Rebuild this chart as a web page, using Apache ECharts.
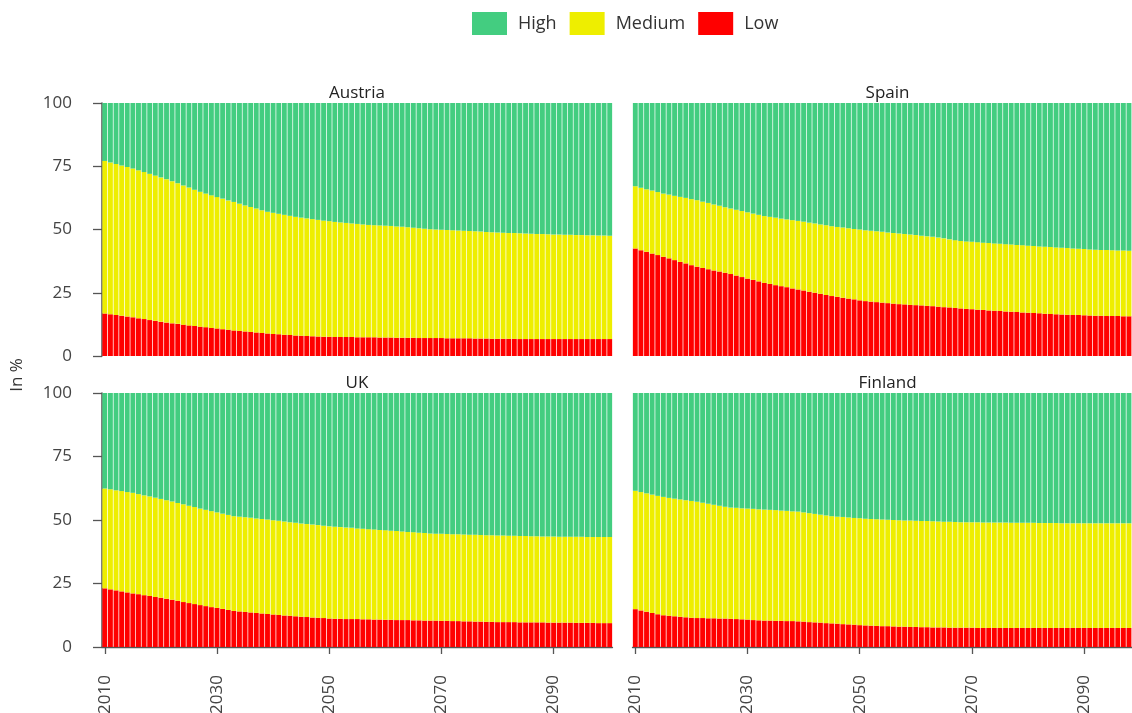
<!DOCTYPE html>
<html><head><meta charset="utf-8">
<script src="https://cdn.jsdelivr.net/npm/echarts@6/dist/echarts.min.js"></script>
<style>html,body{margin:0;padding:0;background:#fff}#c{width:1132px;height:713px}</style>
</head><body><div id="c"></div><script>
const years = ['2010','2011','2012','2013','2014','2015','2016','2017','2018','2019',
'2020','2021','2022','2023','2024','2025','2026','2027','2028','2029',
'2030','2031','2032','2033','2034','2035','2036','2037','2038','2039',
'2040','2041','2042','2043','2044','2045','2046','2047','2048','2049',
'2050','2051','2052','2053','2054','2055','2056','2057','2058','2059',
'2060','2061','2062','2063','2064','2065','2066','2067','2068','2069',
'2070','2071','2072','2073','2074','2075','2076','2077','2078','2079',
'2080','2081','2082','2083','2084','2085','2086','2087','2088','2089',
'2090','2091','2092','2093','2094','2095','2096','2097','2098','2099','2100'];
const yTicks = [0, 25, 50, 75, 100];
const countries = ['Austria', 'Spain', 'UK', 'Finland'];
const levels = ['High', 'Medium', 'Low'];

const austriaLow = [16.8,16.5,16.2,15.9,15.6,15.3,14.9,14.6,14.2,13.9,
13.5,13.2,12.9,12.7,12.4,12.1,11.9,11.6,11.4,11.1,
10.9,10.6,10.4,10.1,9.9,9.7,9.5,9.3,9.1,8.9,
8.7,8.6,8.4,8.3,8.1,8.0,7.9,7.8,7.7,7.6,
7.6,7.5,7.5,7.5,7.5,7.4,7.4,7.4,7.4,7.3,
7.3,7.3,7.2,7.2,7.2,7.2,7.1,7.1,7.1,7.1,
7.1,7.0,7.0,7.0,7.0,7.0,6.9,6.9,6.9,6.8,
6.8,6.8,6.8,6.8,6.7,6.7,6.7,6.7,6.7,6.7,
6.7,6.7,6.7,6.7,6.7,6.7,6.7,6.7,6.7,6.7,6.7];
const austriaMedium = [60.3,60.0,59.7,59.4,59.1,58.8,58.5,58.1,57.8,57.4,
57.1,56.7,56.2,55.6,55.0,54.5,53.8,53.3,52.8,52.4,
51.9,51.6,51.1,50.8,50.3,49.8,49.4,49.0,48.5,48.1,
47.9,47.6,47.4,47.1,46.9,46.7,46.5,46.3,46.1,45.9,
45.7,45.5,45.3,45.1,44.9,44.8,44.6,44.4,44.3,44.3,
44.2,44.1,44.0,43.9,43.7,43.5,43.4,43.2,43.0,42.9,
42.8,42.8,42.7,42.6,42.5,42.4,42.4,42.3,42.1,42.1,
42.0,41.9,41.8,41.8,41.8,41.7,41.6,41.5,41.5,41.4,
41.3,41.3,41.2,41.2,41.1,41.1,41.0,41.0,40.9,40.9,40.8];
const austriaHigh = [22.9,23.5,24.1,24.7,25.3,25.9,26.6,27.3,28.0,28.7,
29.4,30.1,30.9,31.7,32.6,33.4,34.3,35.1,35.8,36.5,
37.2,37.8,38.5,39.1,39.8,40.5,41.1,41.7,42.4,43.0,
43.4,43.8,44.2,44.6,45.0,45.3,45.6,45.9,46.2,46.5,
46.7,47.0,47.2,47.4,47.6,47.8,48.0,48.2,48.3,48.4,
48.5,48.6,48.8,48.9,49.1,49.3,49.5,49.7,49.9,50.0,
50.1,50.2,50.3,50.4,50.5,50.6,50.7,50.8,51.0,51.1,
51.2,51.3,51.4,51.4,51.5,51.6,51.7,51.8,51.8,51.9,
52.0,52.0,52.1,52.1,52.2,52.2,52.3,52.3,52.4,52.4,52.5];

const spainLow = [42.5,41.8,41.2,40.5,39.9,39.2,38.6,37.9,37.2,36.6,
35.9,35.3,34.8,34.3,33.8,33.4,32.9,32.4,31.8,31.2,
30.6,30.1,29.5,28.9,28.5,28.0,27.6,27.2,26.7,26.3,
25.9,25.4,25.0,24.6,24.1,23.7,23.4,23.0,22.7,22.4,
22.0,21.7,21.5,21.3,21.1,20.9,20.7,20.5,20.4,20.2,
20.1,20.0,19.8,19.7,19.5,19.3,19.2,19.0,18.8,18.6,
18.5,18.3,18.2,18.0,17.9,17.8,17.6,17.5,17.4,17.2,
17.1,17.0,16.9,16.7,16.6,16.5,16.4,16.3,16.2,16.2,
16.1,16.0,15.9,15.9,15.8,15.8,15.8,15.7,15.7,15.6,15.6];
const spainMedium = [24.6,24.7,24.7,24.9,24.9,25.0,25.2,25.4,25.7,25.9,
26.1,26.3,26.2,26.2,26.1,26.0,25.9,25.9,26.0,26.1,
26.2,26.2,26.3,26.4,26.5,26.7,26.7,26.8,27.0,27.1,
27.2,27.3,27.4,27.4,27.6,27.6,27.6,27.8,27.8,27.8,
28.0,28.0,28.0,28.0,28.0,27.9,27.9,27.9,27.8,27.8,
27.7,27.5,27.5,27.4,27.3,27.2,26.9,26.8,26.7,26.7,
26.7,26.7,26.6,26.7,26.6,26.6,26.6,26.6,26.5,26.6,
26.5,26.5,26.4,26.5,26.5,26.4,26.4,26.4,26.3,26.2,
26.2,26.1,26.1,26.0,26.1,26.0,25.9,26.0,25.9,26.0,25.9];
const spainHigh = [32.9,33.5,34.1,34.6,35.2,35.8,36.2,36.7,37.1,37.5,
38.0,38.4,39.0,39.5,40.1,40.6,41.2,41.7,42.2,42.7,
43.2,43.7,44.2,44.7,45.0,45.3,45.7,46.0,46.3,46.6,
46.9,47.3,47.6,48.0,48.3,48.7,49.0,49.2,49.5,49.8,
50.0,50.3,50.5,50.7,50.9,51.2,51.4,51.6,51.8,52.0,
52.2,52.5,52.7,52.9,53.2,53.5,53.9,54.2,54.5,54.7,
54.8,55.0,55.2,55.3,55.5,55.6,55.8,55.9,56.1,56.2,
56.4,56.5,56.7,56.8,56.9,57.1,57.2,57.3,57.5,57.6,
57.7,57.9,58.0,58.1,58.1,58.2,58.3,58.3,58.4,58.4,58.5];

const ukLow = [23.1,22.7,22.3,21.9,21.5,21.1,20.8,20.4,20.1,19.7,
19.4,19.0,18.6,18.2,17.7,17.3,16.9,16.5,16.1,15.7,
15.4,15.0,14.6,14.2,14.0,13.8,13.6,13.4,13.2,13.0,
12.8,12.6,12.4,12.3,12.1,11.9,11.8,11.6,11.5,11.4,
11.2,11.1,11.1,11.0,11.0,11.0,10.9,10.9,10.8,10.8,
10.7,10.7,10.6,10.6,10.6,10.5,10.5,10.4,10.4,10.4,
10.3,10.3,10.2,10.2,10.1,10.1,10.0,10.0,9.9,9.9,
9.8,9.8,9.8,9.8,9.7,9.7,9.7,9.7,9.7,9.6,
9.6,9.6,9.6,9.6,9.5,9.5,9.5,9.5,9.4,9.4,9.4];
const ukMedium = [39.3,39.4,39.4,39.5,39.5,39.6,39.4,39.3,39.2,39.1,
38.9,38.8,38.7,38.5,38.5,38.3,38.2,38.0,37.9,37.8,
37.6,37.5,37.4,37.3,37.3,37.3,37.3,37.2,37.2,37.2,
37.1,37.1,37.0,36.8,36.8,36.7,36.6,36.6,36.5,36.3,
36.3,36.2,36.1,36.0,35.9,35.7,35.7,35.5,35.5,35.3,
35.3,35.1,35.1,34.9,34.7,34.7,34.5,34.5,34.3,34.2,
34.3,34.2,34.2,34.2,34.2,34.1,34.2,34.1,34.1,34.1,
34.1,34.1,34.0,34.0,34.0,34.0,33.9,33.9,33.8,33.9,
33.9,33.8,33.8,33.8,33.9,33.9,33.8,33.8,33.9,33.9,33.9];
const ukHigh = [37.6,37.9,38.3,38.6,39.0,39.3,39.8,40.3,40.7,41.2,
41.7,42.2,42.7,43.3,43.8,44.4,44.9,45.5,46.0,46.5,
47.0,47.5,48.0,48.5,48.7,48.9,49.1,49.4,49.6,49.8,
50.1,50.3,50.6,50.9,51.1,51.4,51.6,51.8,52.0,52.3,
52.5,52.7,52.8,53.0,53.1,53.3,53.4,53.6,53.7,53.9,
54.0,54.2,54.3,54.5,54.7,54.8,55.0,55.1,55.3,55.4,
55.4,55.5,55.6,55.6,55.7,55.8,55.8,55.9,56.0,56.0,
56.1,56.1,56.2,56.2,56.3,56.3,56.4,56.4,56.5,56.5,
56.5,56.6,56.6,56.6,56.6,56.6,56.7,56.7,56.7,56.7,56.7];

const finlandLow = [14.9,14.4,13.9,13.4,12.9,12.5,12.3,12.1,11.9,11.7,
11.5,11.4,11.4,11.3,11.3,11.2,11.2,11.1,11.0,10.9,
10.8,10.6,10.5,10.4,10.4,10.3,10.3,10.2,10.2,10.1,
10.0,9.8,9.7,9.6,9.4,9.3,9.2,9.0,8.9,8.8,
8.6,8.5,8.4,8.3,8.2,8.2,8.1,8.0,8.0,7.9,
7.9,7.8,7.8,7.7,7.7,7.7,7.6,7.6,7.6,7.6,
7.6,7.5,7.5,7.5,7.5,7.5,7.5,7.5,7.5,7.5,
7.5,7.5,7.5,7.5,7.5,7.5,7.5,7.5,7.5,7.5,
7.5,7.5,7.5,7.5,7.5,7.5,7.5,7.5,7.5,7.5,7.5];
const finlandMedium = [46.6,46.6,46.6,46.6,46.6,46.6,46.4,46.3,46.2,46.1,
46.0,45.8,45.4,45.1,44.7,44.4,44.0,43.8,43.8,43.7,
43.7,43.8,43.7,43.7,43.6,43.6,43.4,43.4,43.2,43.2,
43.0,42.9,42.7,42.5,42.4,42.2,42.1,42.2,42.1,42.0,
42.1,42.0,42.0,42.0,42.0,41.9,41.9,41.9,41.8,41.9,
41.8,41.8,41.8,41.8,41.7,41.6,41.7,41.6,41.5,41.5,
41.5,41.6,41.5,41.5,41.5,41.5,41.5,41.4,41.4,41.4,
41.4,41.4,41.3,41.3,41.3,41.3,41.2,41.2,41.2,41.2,
41.2,41.2,41.2,41.2,41.2,41.2,41.2,41.2,41.2,41.2,41.2];
const finlandHigh = [38.5,39.0,39.5,40.0,40.5,40.9,41.3,41.6,41.9,42.2,
42.5,42.8,43.2,43.6,44.0,44.4,44.8,45.1,45.2,45.4,
45.5,45.6,45.8,45.9,46.0,46.1,46.3,46.4,46.6,46.7,
47.0,47.3,47.6,47.9,48.2,48.5,48.7,48.8,49.0,49.2,
49.3,49.5,49.6,49.7,49.8,49.9,50.0,50.1,50.2,50.2,
50.3,50.4,50.4,50.5,50.6,50.7,50.7,50.8,50.9,50.9,
50.9,50.9,51.0,51.0,51.0,51.0,51.0,51.1,51.1,51.1,
51.1,51.1,51.2,51.2,51.2,51.2,51.3,51.3,51.3,51.3,
51.3,51.3,51.3,51.3,51.3,51.3,51.3,51.3,51.3,51.3,51.3];

const panelData = [
  { low: austriaLow, medium: austriaMedium, high: austriaHigh },
  { low: spainLow, medium: spainMedium, high: spainHigh },
  { low: ukLow, medium: ukMedium, high: ukHigh },
  { low: finlandLow, medium: finlandMedium, high: finlandHigh }
];

const FONT = 'Open Sans';
const colors = { High: '#43CD80', Medium: '#EEEE00', Low: '#FF0000' };
const grids = [
  { left: 102, top: 103, width: 510.5, height: 253, outerBoundsMode: 'none' },
  { left: 632.5, top: 103, width: 510.5, height: 253, outerBoundsMode: 'none' },
  { left: 102, top: 393, width: 510.5, height: 254, outerBoundsMode: 'none' },
  { left: 632.5, top: 393, width: 510.5, height: 254, outerBoundsMode: 'none' }
];
const every20 = (idx) => idx % 20 === 0;

const xAxes = grids.map((g, i) => {
  const bottom = i >= 2;
  return {
    type: 'category', gridIndex: i, data: years, boundaryGap: true,
    axisLine: { show: bottom, lineStyle: { color: '#555', width: 1.3 } },
    axisTick: { show: bottom, alignWithLabel: true, interval: every20, length: 7, lineStyle: { color: '#555', width: 1.3 } },
    axisLabel: { show: bottom, interval: every20, rotate: 90, margin: 28, fontSize: 17, color: '#444', fontFamily: FONT },
    splitLine: { show: false }
  };
});
const yAxes = grids.map((g, i) => {
  const leftSide = i % 2 === 0;
  return {
    type: 'value', gridIndex: i, min: yTicks[0], max: yTicks[yTicks.length - 1], interval: 25,
    show: leftSide,
    axisLine: { show: leftSide, lineStyle: { color: '#555', width: 1.5 } },
    axisTick: { show: leftSide, length: 9, lineStyle: { color: '#555', width: 1.3 } },
    axisLabel: { show: leftSide, margin: 30, fontSize: 17, color: '#444', fontFamily: FONT },
    splitLine: { show: false }
  };
});

const series = [];
panelData.forEach((p, i) => {
  [['Low', p.low], ['Medium', p.medium], ['High', p.high]].forEach(([name, data]) => {
    series.push({
      type: 'bar', name, data, xAxisIndex: i, yAxisIndex: i, stack: 'panel' + i,
      barCategoryGap: '13%', itemStyle: { color: colors[name] }, emphasis: { disabled: true }
    });
  });
});

const graphic = countries.map((c, i) => ({
  type: 'text',
  x: grids[i].left + 255,
  y: grids[i].top - 10,
  style: { text: c, align: 'center', verticalAlign: 'middle', fontSize: 17, fontFamily: FONT, fill: '#222' }
}));
graphic.push({
  type: 'text', x: 17, y: 375, rotation: Math.PI / 2,
  style: { text: 'In %', align: 'center', verticalAlign: 'middle', fontSize: 17, fontFamily: FONT, fill: '#333' }
});

const chart = echarts.init(document.getElementById('c'), null, { renderer: 'canvas' });
chart.setOption({
  animation: false,
  backgroundColor: '#fff',
  legend: {
    data: levels, left: 467, top: 7, itemWidth: 35, itemHeight: 23, itemGap: 13, icon: 'rect',
    textStyle: { fontSize: 18, color: '#333', fontFamily: FONT, padding: [0, 0, 0, 6] }
  },
  grid: grids,
  xAxis: xAxes,
  yAxis: yAxes,
  series,
  graphic
});
</script></body></html>
